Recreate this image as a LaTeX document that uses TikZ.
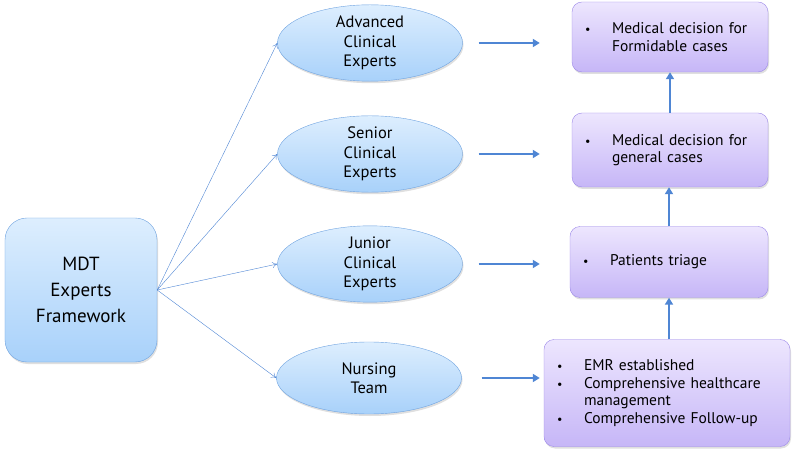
\documentclass[tikz,border=0pt]{standalone}
\usepackage{fontspec}
\setmainfont{PT Sans}
\usetikzlibrary{shapes.geometric,shadows,arrows.meta}

\definecolor{azulborde}{HTML}{6FA3E0}
\definecolor{azularriba}{HTML}{DDEEFE}
\definecolor{azulabajo}{HTML}{A8D1FA}
\definecolor{moradoborde}{HTML}{9C88E8}
\definecolor{moradoarriba}{HTML}{EDE6FE}
\definecolor{moradoabajo}{HTML}{C6B6F7}
\definecolor{flecha}{HTML}{4F86D4}

\newcommand{\punto}{\makebox[27bp][l]{\fontsize{12bp}{12bp}\selectfont\textbullet}}

\tikzset{
  marco/.style={draw=azulborde, top color=azularriba, bottom color=azulabajo,
    rounded corners=22bp, align=center, font=\fontsize{19bp}{26bp}\selectfont,
    drop shadow={opacity=0.25, shadow xshift=1bp, shadow yshift=-2bp}},
  nivel/.style={ellipse, draw=azulborde, top color=azularriba, bottom color=azulabajo,
    minimum width=185bp, minimum height=72bp, inner sep=0pt, align=center,
    font=\fontsize{16.5bp}{19.5bp}\selectfont,
    drop shadow={opacity=0.25, shadow xshift=1bp, shadow yshift=-2bp}},
  tarea/.style={draw=moradoborde, top color=moradoarriba, bottom color=moradoabajo,
    rounded corners=10bp, align=left, inner xsep=13bp,
    font=\fontsize{15.5bp}{17.5bp}\selectfont,
    drop shadow={opacity=0.25, shadow xshift=1bp, shadow yshift=-2bp}},
  fina/.style={draw=flecha, thin, -{To[length=5bp,width=6bp]}},
  gruesa/.style={draw=flecha, line width=2bp, -{Triangle[length=7bp,width=8bp]}}
}

\begin{document}
\begin{tikzpicture}[x=1bp, y=-1bp]
    \useasboundingbox (0,0) rectangle (794,455);
    % Marco principal
    \node[marco, minimum width=152bp, minimum height=144bp] (mdt) at (81,290)
      {MDT\\Experts\\Framework};
    % Niveles de expertos
    \node[nivel] (avanzado) at (370,43) {Advanced\\Clinical\\Experts};
    \node[nivel] (senior) at (370,154) {Senior\\Clinical\\Experts};
    \node[nivel] (junior) at (370,264) {Junior\\Clinical\\Experts};
    \node[nivel] (enfermeria) at (369,378) {Nursing\\Team};
    % Tareas de cada nivel
    \node[tarea, minimum width=196bp, minimum height=70bp, text width=170bp] (formidable) at (670,37)
      {\punto Medical decision for\\\hspace*{27bp}Formidable cases};
    \node[tarea, minimum width=196bp, minimum height=74bp, text width=170bp] (general) at (670,150)
      {\punto Medical decision for\\\hspace*{27bp}general cases};
    \node[tarea, minimum width=198bp, minimum height=71bp, text width=172bp] (triage) at (669,262)
      {\punto Patients triage};
    \node[tarea, minimum width=246bp, minimum height=107bp, text width=220bp] (registro) at (667,393)
      {\punto EMR established\\\punto Comprehensive healthcare\\\hspace*{27bp}management\\\punto Comprehensive Follow-up};
    % Flechas desde el marco
    \draw[fina] (mdt.east) -- (avanzado.west);
    \draw[fina] (mdt.east) -- (senior.west);
    \draw[fina] (mdt.east) -- (junior.west);
    \draw[fina] (mdt.east) -- (enfermeria.west);
    % Flechas hacia las tareas
    \draw[gruesa, shorten <=16bp, shorten >=32bp] (avanzado.east) -- (avanzado.east -| formidable.west);
    \draw[gruesa, shorten <=16bp, shorten >=32bp] (senior.east) -- (senior.east -| general.west);
    \draw[gruesa, shorten <=16bp, shorten >=30bp] (junior.east) -- (junior.east -| triage.west);
    \draw[gruesa, shorten <=20bp, shorten >=4bp] (enfermeria.east) -- (enfermeria.east -| registro.west);
    % Flechas entre tareas
    \draw[gruesa] (registro.north -| triage.south) -- (triage.south);
    \draw[gruesa] (triage.north) -- (general.south -| triage.north);
    \draw[gruesa] (general.north) -- (formidable.south);
\end{tikzpicture}
\end{document}
